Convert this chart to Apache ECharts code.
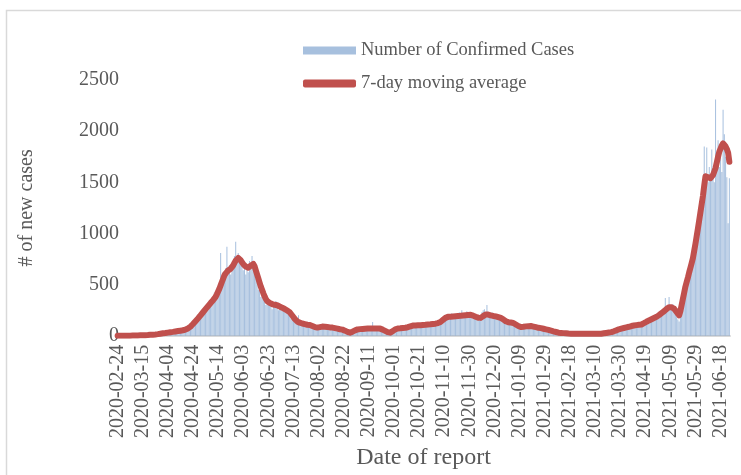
<!DOCTYPE html>
<html>
<head>
<meta charset="utf-8">
<script src="https://cdn.jsdelivr.net/npm/echarts@6/dist/echarts.min.js"></script>
<style>
html,body{margin:0;padding:0;background:#fff;}
#chart{width:741px;height:475px;}
</style>
</head>
<body>
<div id="chart"></div>
<script>
// ---- data ----
const startDate = '2020-02-24';
const dayCount = 488;
const seriesNames = ['Number of Confirmed Cases', '7-day moving average'];
const yTicks = [0, 500, 1000, 1500, 2000, 2500];

const confirmedCases = [
0,0,0,0,0,0,1,0,1,2,
1,2,2,3,1,4,3,5,4,3,
6,4,7,8,5,9,11,8,12,14,
12,17,15,20,18,24,27,22,29,31,
28,35,38,32,40,42,37,47,50,44,
55,52,48,61,68,75,90,85,110,130,
150,120,175,160,210,190,180,235,250,220,
300,280,250,330,310,360,340,420,380,460,
480,520,810,560,620,580,660,870,640,690,
600,700,650,780,920,720,810,760,690,740,
640,700,600,680,620,730,650,780,700,620,
560,640,450,500,380,420,360,340,300,320,
350,290,330,260,310,280,340,300,250,280,
300,260,240,290,230,250,220,200,170,190,
150,180,130,160,200,140,110,130,100,120,
90,115,100,130,80,100,75,95,70,85,
85,80,95,70,100,85,90,75,95,80,
85,70,90,65,80,60,75,55,70,50,
60,40,50,30,35,25,40,30,50,45,
65,55,70,60,75,65,70,80,65,75,
70,80,65,135,75,70,65,80,60,75,
55,65,45,50,35,40,25,30,35,40,
60,50,75,65,80,70,85,70,90,75,
85,80,95,90,110,100,105,95,115,100,
110,95,120,100,115,105,130,110,120,100,
125,110,130,115,140,120,150,140,175,160,
190,170,210,180,200,170,220,190,180,200,
210,190,230,180,250,200,220,190,240,210,
200,220,190,180,170,195,160,185,150,170,
230,250,260,180,300,200,220,190,230,180,
210,180,190,170,200,160,150,170,130,140,
140,120,150,110,130,120,100,115,90,100,
80,95,85,100,80,110,90,95,100,85,
95,80,90,75,85,70,80,65,75,60,
70,55,65,50,60,45,55,40,45,35,
35,28,32,25,30,24,28,20,26,18,
24,18,22,17,23,16,22,18,21,15,
22,17,23,16,20,18,22,15,21,19,
23,18,22,17,24,20,25,22,30,26,
35,30,38,33,45,40,52,48,62,58,
70,66,78,72,82,75,88,80,95,90,
105,95,110,100,115,98,120,105,130,125,
145,130,160,140,170,150,185,165,200,175,
210,190,240,220,260,230,370,280,300,380,
290,260,310,240,220,180,160,140,260,350,
420,380,520,560,600,540,700,650,820,780,
950,900,1100,1050,1250,1200,1330,1850,1450,1840,
1500,1650,1580,1820,1620,1500,2310,1700,1910,1650,
1750,1600,2210,1970,1750,1550,1100,1540
];

const movingAverage = [
0,0,0,0,0,0,0,1,1,1,
1,1,2,2,2,3,3,3,4,4,
5,5,6,6,7,8,9,10,11,12,
13,15,16,18,20,22,24,25,27,29,
31,33,35,37,38,40,42,44,46,48,
50,52,54,57,61,66,72,80,90,102,
115,128,142,156,170,185,200,215,230,245,
260,275,290,305,320,335,348,362,380,405,
432,460,492,525,558,590,610,625,638,648,
655,662,688,712,735,752,760,752,738,720,
700,688,676,668,665,672,685,698,702,680,
640,600,560,520,480,448,415,385,360,340,
330,322,315,310,306,303,300,298,292,286,
280,275,270,262,255,246,238,230,215,198,
182,165,150,140,134,128,124,120,117,114,
111,108,106,105,100,95,90,85,82,80,
82,85,88,90,89,88,86,85,83,82,
81,80,78,75,72,70,67,64,62,60,
55,50,44,38,33,30,34,40,46,53,
60,62,64,65,66,67,68,69,70,70,
71,71,72,72,71,71,70,70,70,70,
65,60,54,48,42,36,32,30,35,45,
55,63,70,71,72,73,75,76,78,79,
80,84,88,92,96,100,101,101,102,102,
103,103,104,105,106,107,108,110,111,112,
113,115,116,118,120,124,128,135,145,155,
165,175,182,185,186,187,188,189,190,191,
192,193,194,195,197,198,200,201,202,204,
205,205,202,197,191,186,181,177,175,175,
182,192,202,208,210,207,203,200,197,194,
192,190,186,182,178,174,170,160,150,142,
135,133,131,129,127,125,118,110,102,95,
89,85,86,88,90,92,93,94,95,95,
92,90,87,84,81,78,76,75,72,69,
66,63,60,57,54,50,47,43,40,37,
33,30,29,28,27,26,25,24,23,22,
22,21,21,20,20,20,20,19,19,19,
20,20,20,19,19,19,19,20,20,20,
21,21,21,20,20,20,22,24,26,28,
30,32,34,36,40,44,48,53,58,63,
67,70,73,76,79,82,85,88,91,95,
98,100,102,104,105,107,108,110,116,123,
130,137,144,150,156,162,168,174,180,185,
193,202,212,222,232,240,250,262,272,280,
282,278,272,265,250,232,215,200,240,300,
360,420,480,525,570,620,665,712,760,830,
900,975,1050,1130,1210,1290,1370,1470,1560,1555,
1550,1545,1540,1555,1572,1590,1640,1695,1750,1800,
1830,1860,1880,1870,1850,1825,1790,1700
];

// category labels (one per reported day)
const categories = [];
(function () {
  const base = new Date(startDate + 'T00:00:00Z');
  for (let i = 0; i < dayCount; i++) {
    const d = new Date(base.getTime() + i * 86400000);
    categories.push(d.toISOString().slice(0, 10));
  }
})();

// ---- chart ----
const FONT = '"Liberation Serif", "Times New Roman", serif';
const TXT = '#595959';
const chart = echarts.init(document.getElementById('chart'), null, {renderer: 'canvas'});
chart.setOption({
  animation: false,
  backgroundColor: '#ffffff',
  textStyle: {fontFamily: FONT},
  graphic: [{
    type: 'rect', silent: true, z: -1,
    shape: {x: 6.5, y: 10.5, width: 800, height: 600},
    style: {fill: 'none', stroke: '#d9d9d9', lineWidth: 1.5}
  }],
  legend: {
    orient: 'vertical',
    left: 303, top: 41,
    padding: 0,
    itemWidth: 53, itemHeight: 8, itemGap: 14,
    textStyle: {fontFamily: FONT, fontSize: 18.5, color: TXT},
    data: [
      {name: seriesNames[0], icon: 'rect'},
      {name: seriesNames[1], icon: 'roundRect'}
    ]
  },
  grid: {left: 117, right: 11, top: 80, bottom: 138, containLabel: false},
  xAxis: {
    type: 'category',
    data: categories,
    boundaryGap: true,
    name: 'Date of report',
    nameLocation: 'middle',
    nameGap: 108,
    nameTextStyle: {fontFamily: FONT, fontSize: 24, color: TXT},
    axisLine: {lineStyle: {color: '#d9d9d9', width: 2}},
    axisTick: {show: false},
    axisLabel: {interval: 19, rotate: 90, margin: 9, fontFamily: FONT, fontSize: 20, color: TXT},
    splitLine: {show: false}
  },
  yAxis: {
    type: 'value',
    min: yTicks[0], max: yTicks[yTicks.length - 1], interval: 500,
    name: '# of new cases',
    nameLocation: 'middle',
    nameGap: 80,
    nameRotate: 90,
    nameTextStyle: {fontFamily: FONT, fontSize: 20, color: TXT},
    axisLine: {show: false},
    axisTick: {show: false},
    splitLine: {show: false},
    axisLabel: {margin: -2, fontFamily: FONT, fontSize: 20, color: TXT,
      formatter: function (v) { return String(v); }}
  },
  series: [
    {
      name: seriesNames[0],
      type: 'bar',
      data: confirmedCases,
      barWidth: '55%',
      itemStyle: {color: '#4f81bd', opacity: 0.5},
      emphasis: {disabled: true}
    },
    {
      name: seriesNames[1],
      type: 'line',
      data: movingAverage,
      showSymbol: false,
      symbol: 'none',
      smooth: false,
      itemStyle: {color: '#c0504d'},
      lineStyle: {color: '#c0504d', width: 6, cap: 'round', join: 'round'},
      emphasis: {disabled: true},
      z: 3
    }
  ]
});
</script>
</body>
</html>
